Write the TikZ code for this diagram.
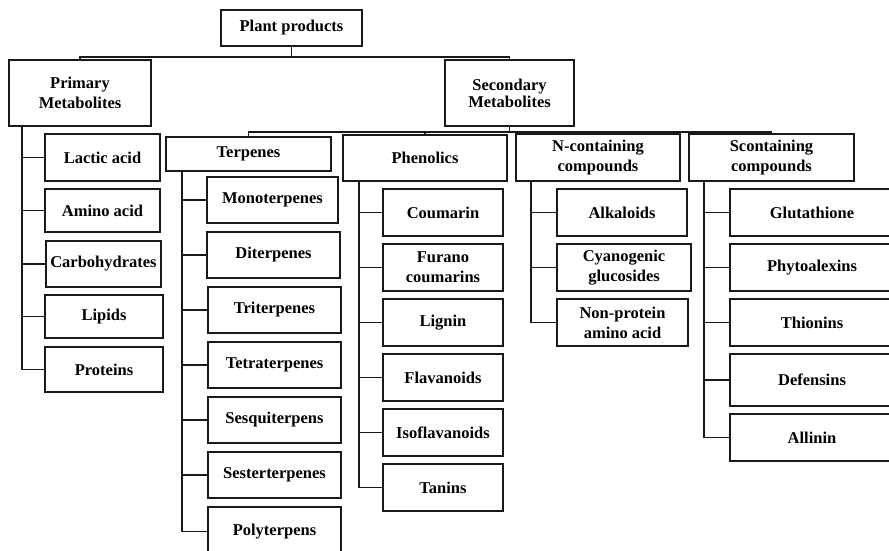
\documentclass[tikz,border=0pt]{standalone}
\usepackage{fontspec}
\setmainfont{Liberation Serif}
\usetikzlibrary{calc}

\tikzset{
  box/.style={draw=black!90, line width=1.9pt, rectangle, inner sep=0pt,
    align=center, font=\fontsize{16.5}{20}\selectfont\bfseries},
  conn/.style={draw=black!90, line width=1.9pt},
}

% \bx{name}{x1}{y1}{x2}{y2}{text}: box given by its corners in pixels
\newcommand\bx[6]{%
  \node[box, minimum width={(#4-#2)*1pt}, minimum height={(#5-#3)*1pt}]
    (#1) at ({(#2+#4)/2},{(#3+#5)/2}) {#6};}

\begin{document}
\begin{tikzpicture}[x=1pt,y=-1pt]
\useasboundingbox (0,0) rectangle (889,550);
\clip (0,0) rectangle (889,550);

% top levels
\bx{pp}{221}{10}{362}{46}{Plant products}
\bx{pm}{9}{60}{151}{126}{Primary\\Metabolites}
\node[box, minimum width=129pt, minimum height=66pt,
  font=\fontsize{16.5}{17}\selectfont\bfseries]
  (sm) at (509.5,93) {Secondary\\Metabolites};

% primary metabolites
\bx{lac}{45}{134}{160}{181}{Lactic acid}
\bx{ami}{45}{189}{160}{232}{Amino acid}
\bx{car}{46}{241}{161}{287}{Carbohydrates}
\bx{lip}{45}{295}{163}{338}{Lipids}
\bx{pro}{45}{347}{163}{392}{Proteins}

% secondary metabolite groups
\bx{terp}{166}{137}{331}{171}{Terpenes}
\bx{phen}{343}{135}{507}{181}{Phenolics}
\bx{ncomp}{516}{134}{680}{181}{N-containing\\compounds}
\bx{scomp}{689}{134}{854}{181}{Scontaining\\compounds}

% terpenes
\bx{mono}{207}{177}{338}{223}{Monoterpenes}
\bx{dit}{207}{232}{340}{278}{Diterpenes}
\bx{trit}{208}{287}{341}{333}{Triterpenes}
\bx{tetra}{208}{342}{341}{388}{Tetraterpenes}
\bx{sesq}{208}{397}{341}{443}{Sesquiterpens}
\bx{sest}{208}{452}{341}{498}{Sesterterpenes}
\bx{poly}{208}{507}{341}{556}{Polyterpens}

% phenolics
\bx{cou}{383}{189}{503}{236}{Coumarin}
\bx{fur}{383}{244}{503}{291}{Furano\\coumarins}
\bx{lig}{383}{299}{503}{346}{Lignin}
\bx{fla}{383}{354}{503}{401}{Flavanoids}
\bx{iso}{383}{409}{503}{456}{Isoflavanoids}
\bx{tan}{383}{464}{503}{511}{Tanins}

% N-containing compounds
\bx{alk}{557}{189}{687}{236}{Alkaloids}
\bx{cya}{557}{244}{691}{291}{Cyanogenic\\glucosides}
\bx{non}{557}{299}{688}{346}{Non-protein\\amino acid}

% S-containing compounds
\bx{glu}{730}{189}{894}{236}{Glutathione}
\bx{phy}{730}{244}{894}{291}{Phytoalexins}
\bx{thi}{730}{299}{894}{346}{Thionins}
\bx{def}{730}{354}{894}{406}{Defensins}
\bx{all}{730}{414}{894}{461}{Allinin}

% connectors: plant products to its two classes
\coordinate (ppj) at ($(pp.south)+(0,10)$);
\draw[conn] (pp.south) -- (ppj);
\draw[conn] (ppj) -| (pm.north);
\draw[conn] (ppj) -| (sm.north);

% secondary metabolites to its groups
\coordinate (smj) at ($(sm.south)+(0,5)$);
\draw[conn] (sm.south) -- (smj);
\foreach \g in {terp,phen,ncomp,scomp}
  \draw[conn] (smj) -| (\g.north);

% tree branches
\foreach \c in {lac,ami,car,lip,pro}
  \draw[conn] ([xshift=14pt]pm.south west) |- (\c.west);
\foreach \c in {mono,dit,trit,tetra,sesq,sest,poly}
  \draw[conn] ([xshift=17pt]terp.south west) |- (\c.west);
\foreach \c in {cou,fur,lig,fla,iso,tan}
  \draw[conn] ([xshift=17pt]phen.south west) |- (\c.west);
\foreach \c in {alk,cya,non}
  \draw[conn] ([xshift=16pt]ncomp.south west) |- (\c.west);
\foreach \c in {glu,phy,thi,def,all}
  \draw[conn] ([xshift=16pt]scomp.south west) |- (\c.west);
\end{tikzpicture}
\end{document}
